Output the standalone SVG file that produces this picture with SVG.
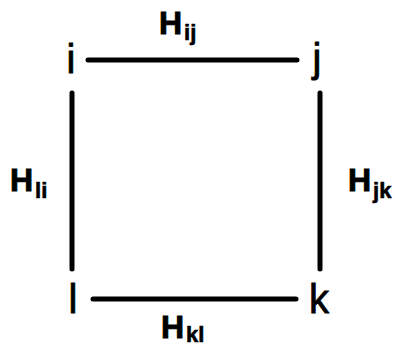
<svg xmlns="http://www.w3.org/2000/svg" width="395" height="348" viewBox="0 0 395 348">
<style>
.node{font-family:"Liberation Sans",Arial,sans-serif;font-size:40px;fill:#000;stroke:#000;stroke-width:0.8}
.lab{font-family:"Liberation Sans",Arial,sans-serif;font-weight:bold;font-size:32px;fill:#000;stroke:#000;stroke-width:0.9}
.sub{font-size:22px;stroke-width:0.6}
.edge{stroke:#000;stroke-width:5;stroke-linecap:round;fill:none}
</style>
<rect width="395" height="348" fill="#fff"/>
<g id="connectors">
<line class="edge" x1="88" y1="60" x2="297" y2="60"/>
<line class="edge" x1="72" y1="93" x2="72" y2="269"/>
<line class="edge" x1="320" y1="93" x2="320" y2="269"/>
<line class="edge" x1="93" y1="299" x2="296" y2="299"/>
</g>
<g id="node-i"><text class="node" x="71" y="73" text-anchor="middle">i</text></g>
<g id="node-j"><text class="node" x="317" y="72" text-anchor="middle">j</text></g>
<g id="node-k"><text class="node" x="319" y="313" text-anchor="middle">k</text></g>
<g id="node-l"><text class="node" x="73" y="313" text-anchor="middle">l</text></g>
<g id="label-Hij"><text class="lab" x="159" y="34">H<tspan class="sub" dx="2" dy="6">ij</tspan></text></g>
<g id="label-Hli"><text class="lab" x="10" y="191">H<tspan class="sub" dx="2" dy="7">li</tspan></text></g>
<g id="label-Hjk"><text class="lab" x="348" y="191">H<tspan class="sub" dx="2" dy="7">jk</tspan></text></g>
<g id="label-Hkl"><text class="lab" x="161" y="338">H<tspan class="sub" dx="2" dy="4">kl</tspan></text></g>
</svg>
